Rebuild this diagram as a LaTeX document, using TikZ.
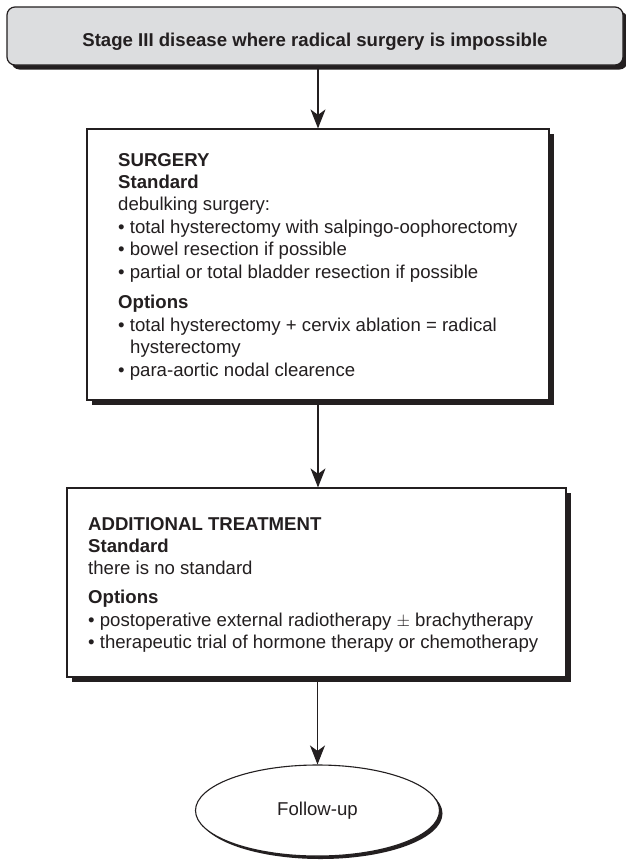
\documentclass[tikz,border=0pt]{standalone}
\usepackage{fontspec}
\setmainfont{Liberation Sans}
\usetikzlibrary{shapes.geometric,shadows,arrows.meta}
\definecolor{ink}{HTML}{231F20}
\definecolor{topgray}{HTML}{DCDDDF}
\tikzset{
  flowbox/.style={draw=ink, line width=1.2pt, fill=white, inner sep=0pt,
    drop shadow={shadow xshift=4.5pt, shadow yshift=-4.5pt, fill=ink, opacity=1}},
  topbox/.style={flowbox, fill=topgray, rounded corners=8pt},
  endbox/.style={draw=ink, line width=1.1pt, fill=white, ellipse, inner sep=0pt,
    drop shadow={shadow xshift=3pt, shadow yshift=-3pt, fill=ink, opacity=1},
    font=\fontsize{18.6}{22.4}\selectfont, text=ink},
  bodytext/.style={anchor=base west, inner sep=0pt, text=ink},
  arr/.style={draw=ink, line width=1.1pt, -{Stealth[length=19pt,width=15pt,inset=5.5pt]}}
}
\begin{document}
\begin{tikzpicture}[x=1pt,y=-1pt]
\useasboundingbox[fill=white] (0,0) rectangle (625,860);

% top box
\node[topbox, minimum width=616pt, minimum height=58pt] (top) at (315,36) {};
\node[anchor=base, inner sep=0pt, text=ink, font=\fontsize{18.6}{22.4}\selectfont\bfseries] (toptxt) at (315,46) {Stage III disease where radical surgery is impossible};

% surgery box
\node[flowbox, minimum width=462pt, minimum height=271pt] (surg) at (318,264.5) {};
\node[bodytext] (surgtxt) at (118,166) {\parbox[t]{440pt}{\fontsize{18.6}{22.4}\selectfont\raggedright
\textbf{SURGERY}\\
\textbf{Standard}\\
debulking surgery:\\
• total hysterectomy with salpingo-oophorectomy\\
• bowel resection if possible\\
• partial or total bladder resection if possible\\[8.5pt]
\textbf{Options}\\
• total hysterectomy + cervix ablation = radical\\
\hspace*{12pt}hysterectomy\\
• para-aortic nodal clearence}};

% additional treatment box
\node[flowbox, minimum width=499pt, minimum height=189pt] (add) at (316.5,582.5) {};
\node[bodytext] (addtxt) at (88,530) {\parbox[t]{470pt}{\fontsize{18.6}{22.4}\selectfont\raggedright
\textbf{ADDITIONAL TREATMENT}\\
\textbf{Standard}\\
there is no standard\\[6.5pt]
\textbf{Options}\\
• postoperative external radiotherapy $\pm$ brachytherapy\\
• therapeutic trial of hormone therapy or chemotherapy}};

% follow-up
\node[endbox, minimum width=244pt, minimum height=91pt] (foll) at (317.5,810.5) {Follow-up};

% connectors
\draw[arr] (top.south -| surg.north) -- (surg.north);
\draw[arr] (surg.south) -- (surg.south |- add.north);
\draw[arr] (foll.north |- add.south) -- (foll.north);
\end{tikzpicture}
\end{document}
